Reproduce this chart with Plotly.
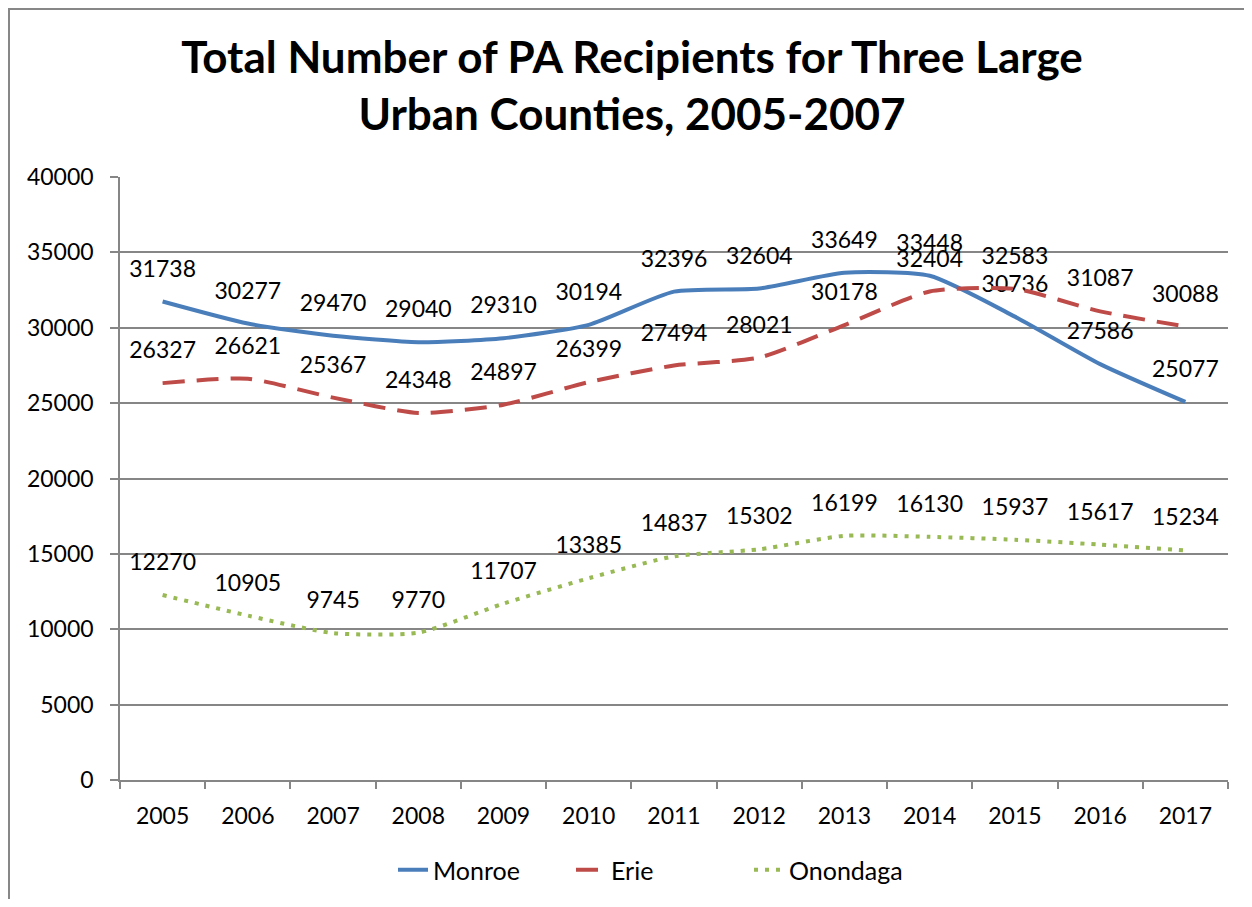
import plotly.graph_objects as go

years = ["2005", "2006", "2007", "2008", "2009", "2010", "2011", "2012", "2013", "2014", "2015", "2016", "2017"]
monroe = [31738, 30277, 29470, 29040, 29310, 30194, 32396, 32604, 33649, 33448, 30736, 27586, 25077]
erie = [26327, 26621, 25367, 24348, 24897, 26399, 27494, 28021, 30178, 32404, 32583, 31087, 30088]
onondaga = [12270, 10905, 9745, 9770, 11707, 13385, 14837, 15302, 16199, 16130, 15937, 15617, 15234]
y_ticks = [0, 5000, 10000, 15000, 20000, 25000, 30000, 35000, 40000]

FONT = "Lato, Calibri, Carlito, sans-serif"

# figure is placed by the page with an 8px body margin
W, H = 1236, 891
L, R, T, B = 112, 16, 169, 119
PW, PH = W - L - R, H - T - B

series = [
    ("Monroe", monroe, "#4A7EBB", "solid"),
    ("Erie", erie, "#BE4B48", "22px,12px"),
    ("Onondaga", onondaga, "#98B954", "4px,7px"),
]

fig = go.Figure()
for name, vals, color, dash in series:
    fig.add_trace(go.Scatter(
        x=years, y=vals, name=name, mode="lines+markers+text",
        text=[str(v) for v in vals], textposition="top center",
        textfont=dict(family=FONT, size=23, color="#000000"),
        marker=dict(size=29, opacity=0, color="rgba(0,0,0,0)", line=dict(width=0)),
        line=dict(color=color, width=4, dash=dash, shape="spline", smoothing=0.6),
        cliponaxis=False,
        hoverinfo="x+y+name",
    ))

fig.update_layout(
    width=W, height=H,
    margin=dict(l=L, r=R, t=T, b=B, autoexpand=False),
    paper_bgcolor="white", plot_bgcolor="white",
    font=dict(family=FONT, size=23, color="#000000"),
    title=dict(
        text="Total Number of PA Recipients for Three Large<br>Urban Counties, 2005-2007",
        x=(624 - L) / PW, xref="paper", xanchor="center",
        yref="container", y=1 - 64.5 / H, yanchor="top",
        font=dict(family=FONT, size=44, color="#000000", weight="bold"),
    ),
    xaxis=dict(
        type="category", range=[-0.5, 12.5], automargin=False,
        showgrid=False, showline=True, linecolor="#868686", linewidth=1.5,
        ticks="outside", tickson="boundaries", ticklen=7, tickcolor="#868686", tickwidth=1.5,
        ticklabelstandoff=15,
        tickfont=dict(family=FONT, size=23, color="#000000"),
    ),
    yaxis=dict(
        range=[0, 40000], tickvals=y_ticks, tickformat="d", automargin=False,
        showgrid=True, gridcolor="#868686", gridwidth=1.5,
        showline=True, linecolor="#868686", linewidth=1.5,
        ticks="outside", ticklen=8, tickcolor="#868686", tickwidth=1.5,
        ticklabelstandoff=12, zeroline=False,
        tickfont=dict(family=FONT, size=23, color="#000000"),
    ),
    legend=dict(
        orientation="h", xref="container", yref="container",
        x=385 / W, xanchor="left",
        y=1 - 862 / H, yanchor="middle",
        font=dict(family=FONT, size=25, color="#000000"),
        entrywidth=133, entrywidthmode="pixels",
        traceorder="normal",
    ),
    shapes=[dict(
        type="rect", xref="paper", yref="paper",
        x0=(1 - L) / PW, x1=(W + 20 - L) / PW,
        y0=(T + PH - H - 20) / PH, y1=(T + PH - 1) / PH,
        line=dict(color="#878787", width=2), fillcolor="rgba(0,0,0,0)", layer="below",
    )],
)

fig.write_html("out.html")
